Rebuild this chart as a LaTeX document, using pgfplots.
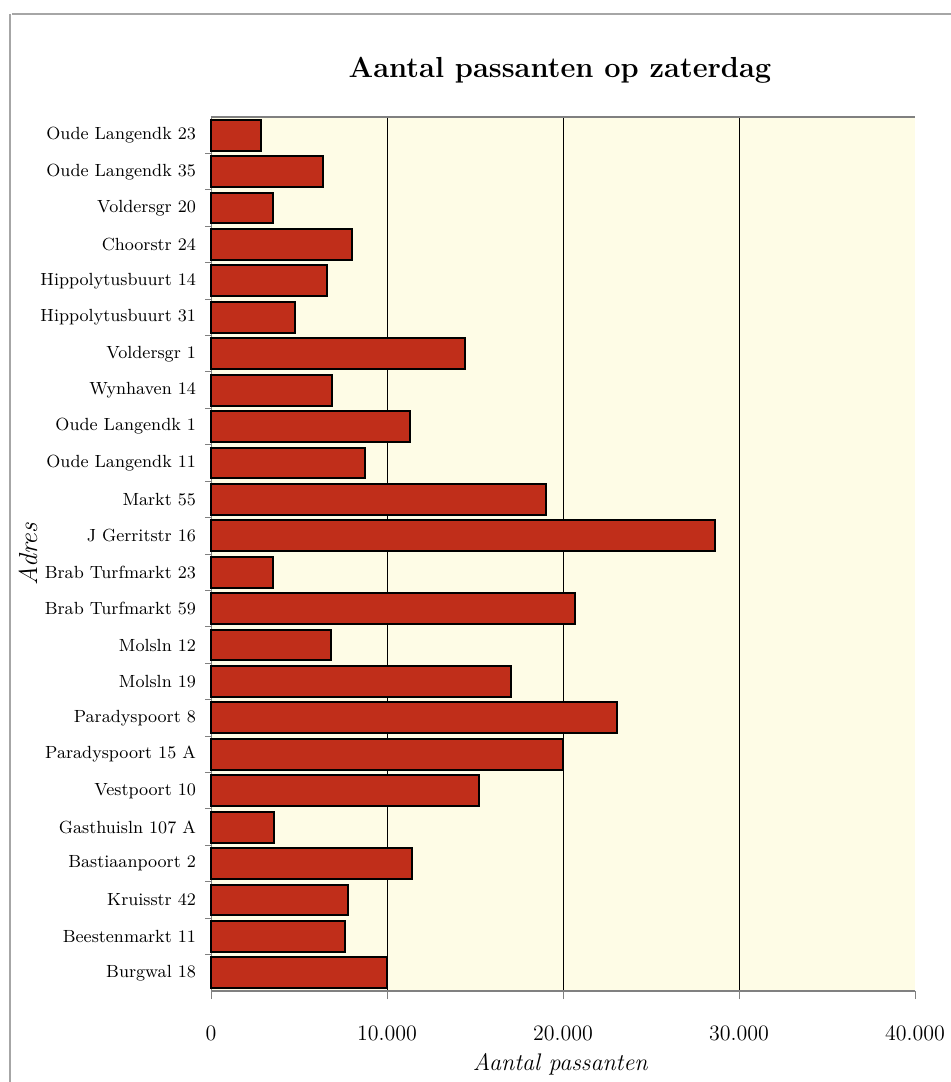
\documentclass[border=0pt]{standalone}
\usepackage{pgfplots}
\pgfplotsset{compat=1.18}
\definecolor{barred}{RGB}{192,46,26}
\definecolor{cream}{RGB}{254,252,230}
\begin{document}
\begin{tikzpicture}
\path[use as bounding box] (0,0) rectangle (475.5pt,541pt);
\draw[gray!70, line width=0.8pt] (6pt,534pt) -- (475.5pt,534pt);
\draw[gray!70, line width=0.8pt] (5pt,534pt) -- (5pt,0pt);
\node[font=\fontsize{14.5}{17}\selectfont\bfseries] at (280pt,506pt) {Aantal passanten op zaterdag};
\begin{axis}[
  at={(105.5pt,45.5pt)}, anchor=south west,
  scale only axis, width=352pt, height=437pt,
  xbar, bar width=15.4pt,
  xmin=0, xmax=40000,
  ymin=-0.5, ymax=23.5, y dir=reverse,
  scaled x ticks=false,
  axis background/.style={fill=cream},
  axis line style={draw=none},
  xtick={0,10000,20000,30000,40000},
  xticklabels={0,10.000,20.000,30.000,40.000},
  xtick pos=bottom,
  ytick pos=left,
  tick align=outside,
  major tick length=4pt,
  minor tick length=3pt,
  xticklabel style={font=\fontsize{11}{13}\selectfont, yshift=-10pt},
  extra x ticks={10000,20000,30000},
  extra x tick labels={},
  extra x tick style={grid=major, major grid style={black, line width=0.45pt}},
  ytick={0,...,23},
  yticklabels={Oude Langendk 23,Oude Langendk 35,Voldersgr 20,Choorstr 24,Hippolytusbuurt 14,Hippolytusbuurt 31,Voldersgr 1,Wynhaven 14,Oude Langendk 1,Oude Langendk 11,Markt 55,J Gerritstr 16,Brab Turfmarkt 23,Brab Turfmarkt 59,Molsln 12,Molsln 19,Paradyspoort 8,Paradyspoort 15 A,Vestpoort 10,Gasthuisln 107 A,Bastiaanpoort 2,Kruisstr 42,Beestenmarkt 11,Burgwal 18},
  major y tick style={draw=none},
  minor ytick={0.5,1.5,...,22.5},
  minor y tick style={gray, line width=0.5pt},
  yticklabel style={font=\fontsize{8.8}{11}\selectfont, xshift=0pt},
  xlabel={Aantal passanten},
  xlabel style={font=\fontsize{12}{14}\selectfont\itshape, at={(axis description cs:0.496,-0.084)}, anchor=center},
  ylabel={Adres},
  ylabel style={font=\fontsize{13}{15}\selectfont\itshape, at={(axis description cs:-0.26,0.5)}, anchor=center},
  clip=false,
]
\draw[gray, line width=0.7pt] (rel axis cs:0,1) -- (rel axis cs:1,1);
\draw[gray, line width=0.7pt] (rel axis cs:0,0) -- (rel axis cs:1,0);
\draw[gray, line width=0.4pt] (rel axis cs:0,0) -- (rel axis cs:0,1);
\addplot[draw=black, fill=barred, line width=1pt] coordinates {
(2820,0) (6380,1) (3510,2) (7990,3) (6610,4) (4790,5) (14430,6) (6860,7)
(11310,8) (8730,9) (19030,10) (28640,11) (3540,12) (20680,13) (6820,14) (17050,15)
(23090,16) (19980,17) (15230,18) (3590,19) (11440,20) (7760,21) (7590,22) (9990,23)
};
\end{axis}
\end{tikzpicture}
\end{document}
